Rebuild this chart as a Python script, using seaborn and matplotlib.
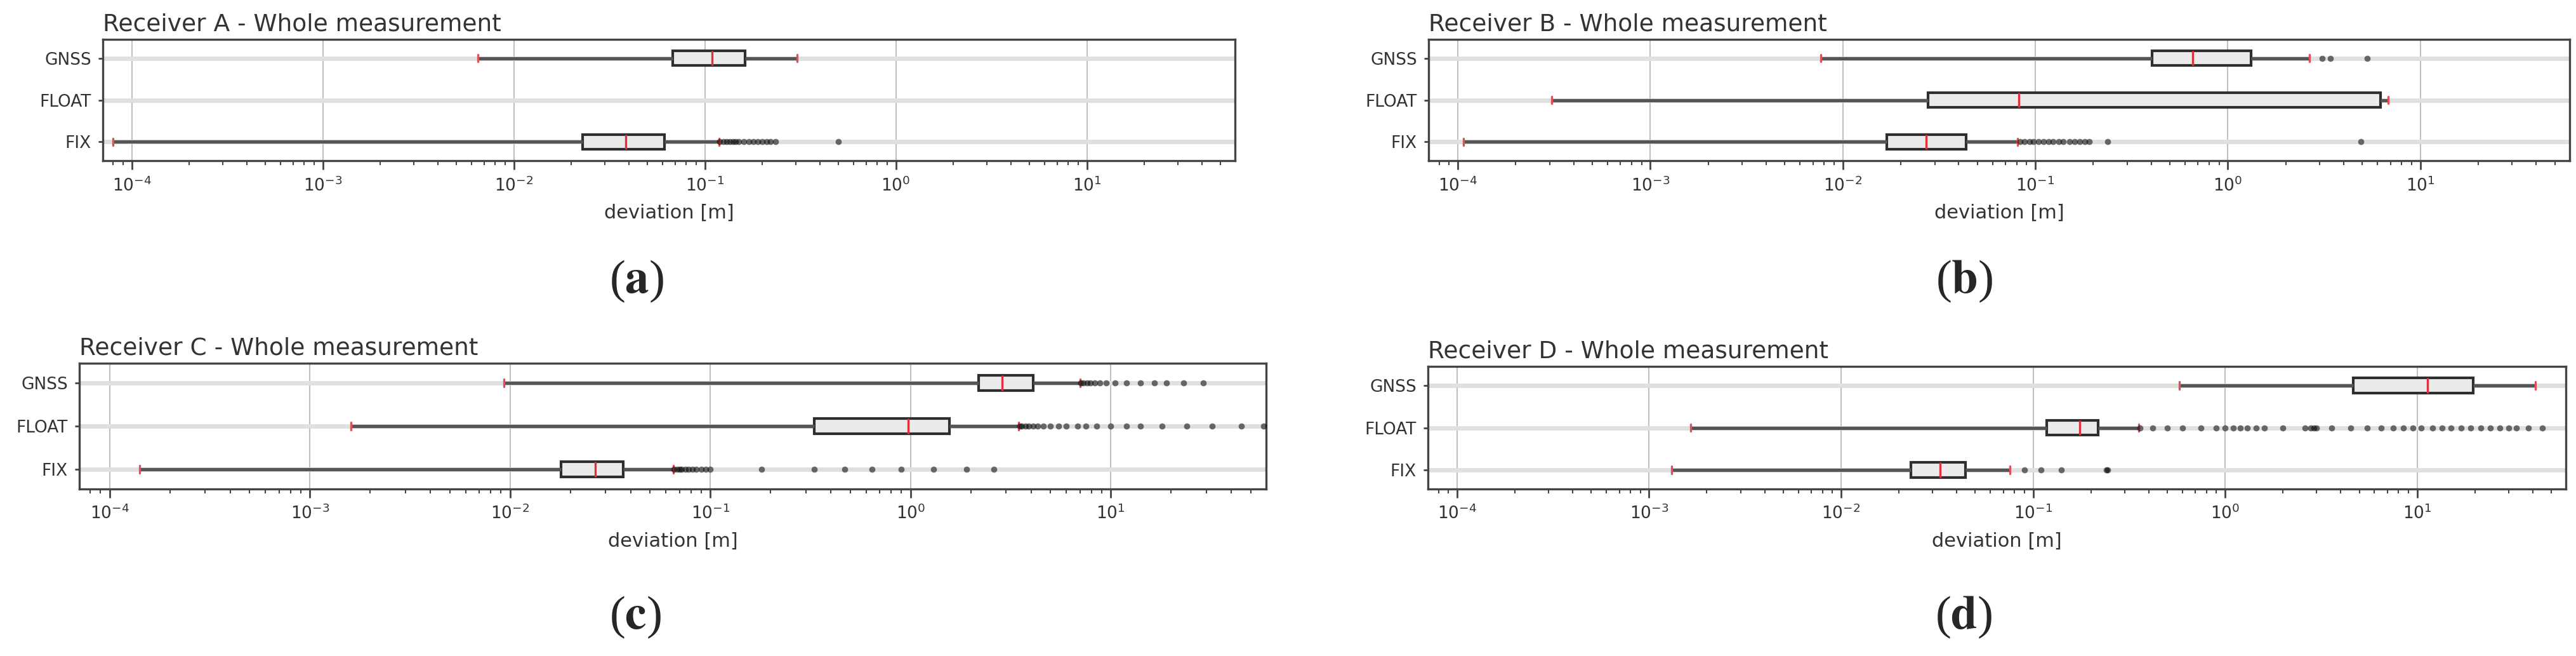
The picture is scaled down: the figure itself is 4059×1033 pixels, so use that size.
import numpy as np
import pandas as pd
import matplotlib
matplotlib.use("Agg")
import matplotlib.pyplot as plt
import seaborn as sns

# ---- data (deviation in metres) ----
categories = ["GNSS", "FLOAT", "FIX"]

# five-number summaries: lower whisker, Q1, median, Q3, upper whisker
A_GNSS = [0.0065, 0.068, 0.109, 0.163, 0.305]
A_FIX = [8.0e-5, 0.0229, 0.0385, 0.0613, 0.119]
B_GNSS = [0.0077, 0.403, 0.657, 1.32, 2.66]
B_FLOAT = [3.07e-4, 0.0276, 0.082, 6.21, 6.8]
B_FIX = [1.07e-4, 0.0169, 0.027, 0.0436, 0.081]
C_GNSS = [0.0093, 2.19, 2.87, 4.10, 7.0]
C_FLOAT = [1.6e-3, 0.329, 0.97, 1.56, 3.47]
C_FIX = [1.41e-4, 0.0180, 0.0267, 0.0367, 0.0654]
D_GNSS = [0.578, 4.65, 11.3, 19.6, 41.4]
D_FLOAT = [1.65e-3, 0.118, 0.175, 0.218, 0.355]
D_FIX = [1.31e-3, 0.0231, 0.0329, 0.0443, 0.076]

# outliers
A_FIX_out = [0.12, 0.125, 0.13, 0.135, 0.14, 0.145, 0.15, 0.16, 0.17, 0.18,
             0.19, 0.2, 0.21, 0.22, 0.235, 0.5]
B_GNSS_out = [3.1, 3.4, 5.3]
B_FIX_out = [0.083, 0.088, 0.093, 0.098, 0.104, 0.11, 0.117, 0.124, 0.132,
             0.14, 0.15, 0.16, 0.17, 0.18, 0.19, 0.237, 4.9]
C_GNSS_out = [7.1, 7.3, 7.6, 7.9, 8.3, 8.8, 9.5, 10.5, 12.0, 14.0, 16.5,
              19.0, 23.0, 29.0]
C_FLOAT_out = [3.5, 3.6, 3.75, 3.9, 4.1, 4.3, 4.6, 5.0, 5.5, 6.0, 6.8, 7.5,
               8.5, 10.0, 12.0, 14.0, 18.0, 24.0, 32.0, 45.0, 58.0]
C_FIX_out = [0.066, 0.068, 0.07, 0.072, 0.075, 0.078, 0.081, 0.085, 0.09,
             0.095, 0.1, 0.18, 0.33, 0.47, 0.64, 0.9, 1.3, 1.9, 2.6]
D_FLOAT_out = [0.36, 0.42, 0.5, 0.6, 0.75, 0.9, 1.0, 1.1, 1.2, 1.3, 1.45,
               1.6, 2.0, 2.6, 2.8, 2.9, 3.0, 3.6, 4.5, 5.5, 6.5, 7.5, 8.5,
               9.5, 10.5, 12, 13.5, 15, 17, 19, 21.5, 24, 27, 30, 33, 38, 45]
D_FIX_out = [0.09, 0.11, 0.14, 0.24, 0.245]

receivers = ["A", "B", "C", "D"]
panel_tags = ["a", "b", "c", "d"]
boxes = {
    "A": {"GNSS": A_GNSS, "FIX": A_FIX},
    "B": {"GNSS": B_GNSS, "FLOAT": B_FLOAT, "FIX": B_FIX},
    "C": {"GNSS": C_GNSS, "FLOAT": C_FLOAT, "FIX": C_FIX},
    "D": {"GNSS": D_GNSS, "FLOAT": D_FLOAT, "FIX": D_FIX},
}
outliers = {
    "A": {"FIX": A_FIX_out},
    "B": {"GNSS": B_GNSS_out, "FIX": B_FIX_out},
    "C": {"GNSS": C_GNSS_out, "FLOAT": C_FLOAT_out, "FIX": C_FIX_out},
    "D": {"FLOAT": D_FLOAT_out, "FIX": D_FIX_out},
}

# ---- layout (figure fractions) ----
axes_pos = {
    "A": [0.0399, 0.755, 0.4395, 0.185],
    "B": [0.5546, 0.755, 0.4429, 0.185],
    "C": [0.0308, 0.2546, 0.4607, 0.1917],
    "D": [0.5543, 0.2546, 0.4418, 0.1868],
}
tag_pos = {"A": (0.2471, 0.571), "B": (0.7625, 0.571),
           "C": (0.2466, 0.059), "D": (0.7623, 0.059)}

sns.set_style("white")
plt.rcParams["mathtext.fontset"] = "stix"

fig = plt.figure(figsize=(40.59, 10.33), dpi=100)

for rec, tag in zip(receivers, panel_tags):
    ax = fig.add_axes(axes_pos[rec])

    rows = [(cat, v) for cat, vals in boxes[rec].items() for v in vals]
    df = pd.DataFrame(rows, columns=["mode", "deviation"])
    out_rows = [(cat, v) for cat, vals in outliers[rec].items() for v in vals]
    df_out = pd.DataFrame(out_rows, columns=["mode", "deviation"])

    sns.boxplot(data=df, x="deviation", y="mode", order=categories,
                orient="h", whis=(0, 100), width=0.35, log_scale=True,
                showfliers=False, ax=ax,
                boxprops=dict(facecolor="#ebebeb", edgecolor="#2e2e2e", linewidth=3.0),
                whiskerprops=dict(color="#555555", linewidth=3.8),
                capprops=dict(color="#e0505a", linewidth=2.4),
                medianprops=dict(color="#e03040", linewidth=2.4))
    sns.stripplot(data=df_out, x="deviation", y="mode", order=categories,
                  orient="h", jitter=False, color="black", size=7,
                  alpha=0.55, linewidth=0, ax=ax)

    ax.set_xlim(7.05e-5, 59.6)
    ax.set_ylim(2.45, -0.45)
    ax.set_axisbelow(True)
    ax.grid(axis="x", which="major", color="#c0c0c0", linewidth=1.5)
    ax.grid(axis="y", color="#e0e0e0", linewidth=5)
    for s in ax.spines.values():
        s.set_color("#444444")
        s.set_linewidth(2.4)

    ax.tick_params(axis="x", which="major", bottom=True, length=10, width=2,
                   color="#444444", labelsize=19, labelcolor="#333333", pad=8)
    ax.tick_params(axis="x", which="minor", bottom=True, length=5, width=1.5,
                   color="#444444")
    ax.tick_params(axis="y", left=True, length=5, width=2, color="#444444",
                   labelsize=19, labelcolor="#333333", pad=8)

    ax.set_ylabel("")
    ax.set_xlabel("deviation [m]", fontsize=22, color="#333333", labelpad=10)
    ax.set_title(f"Receiver {rec} - Whole measurement", loc="left",
                 fontsize=27, color="#333333", pad=10)

    fig.text(tag_pos[rec][0], tag_pos[rec][1], rf"($\mathbf{{{tag}}}$)",
             family="Liberation Serif", fontsize=54, ha="center", va="center")

fig.savefig("out.png", dpi=100)
